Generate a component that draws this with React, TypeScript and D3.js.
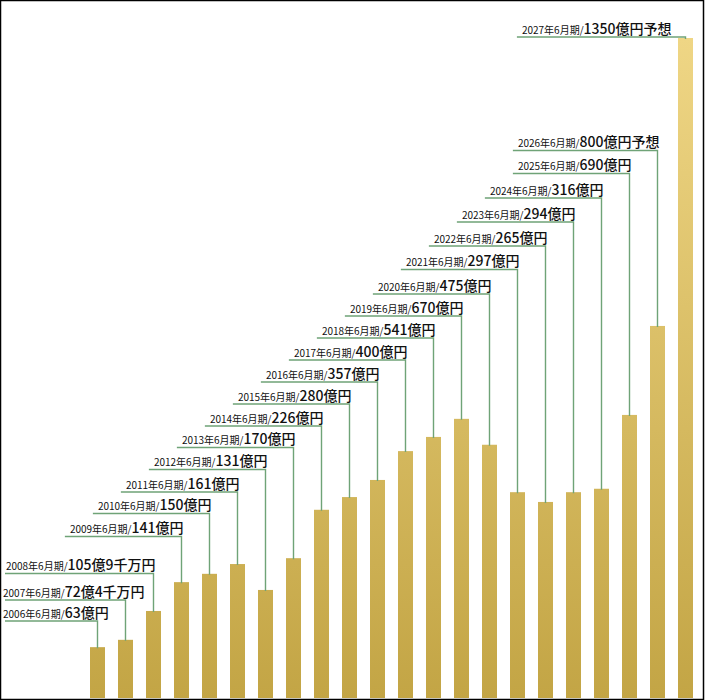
import * as d3 from 'd3';
import React, { useEffect, useRef } from 'react';

// fiscal years (June closing)
const years = [
    2006, 2007, 2008, 2009, 2010, 2011, 2012, 2013, 2014, 2015, 2016,
    2017, 2018, 2019, 2020, 2021, 2022, 2023, 2024, 2025, 2026, 2027,
];

// labelled figures
const amounts = [
    '63億円', '72億4千万円', '105億9千万円', '141億円', '150億円', '161億円',
    '131億円', '170億円', '226億円', '280億円', '357億円', '400億円', '541億円',
    '670億円', '475億円', '297億円', '265億円', '294億円', '316億円', '690億円',
    '800億円予想', '1350億円予想',
];

// drawn bar heights are not proportional to the labels, so they are read
// off the picture separately, in units where the 2027 bar = 1350
const barLevel = [
    104, 119, 178, 237, 254, 274, 221, 286, 385, 411, 446,
    505, 534, 571, 518, 421, 401, 421, 428, 579, 761, 1350,
];

// height of each label's leader line
const leaderY = [
    621, 600, 573.5, 536.5, 513.5, 492, 469.5, 447.5, 426, 404, 382,
    360, 338, 316, 294, 269.5, 246, 222, 198, 173.5, 150.5, 37,
];

const W = 705;
const H = 700;

const App: React.FC = () => {
    const svgRef = useRef<SVGSVGElement | null>(null);

    useEffect(() => {
        const svg = d3.select(svgRef.current);
        svg.selectAll('*').remove();

        const baseline = 698;

        const x = d3
            .scaleBand<number>()
            .domain(years)
            .range([83.5, 699.5])
            .paddingInner(13 / 28)
            .paddingOuter(13 / 56);

        const y = d3.scaleLinear().domain([0, 1350]).range([baseline, 38]);

        const defs = svg.append('defs');
        const grad = defs
            .append('linearGradient')
            .attr('id', 'gold')
            .attr('gradientUnits', 'userSpaceOnUse')
            .attr('x1', 0)
            .attr('x2', 0)
            .attr('y1', baseline)
            .attr('y2', y(1350));
        grad.append('stop').attr('offset', 0).attr('stop-color', '#c3a545');
        grad.append('stop').attr('offset', 1).attr('stop-color', '#efd685');

        svg.append('rect')
            .attr('width', W)
            .attr('height', H)
            .attr('fill', '#fff');

        // bars
        svg.selectAll('.bar')
            .data(years)
            .enter()
            .append('rect')
            .attr('class', 'bar')
            .attr('x', d => x(d)!)
            .attr('y', (d, i) => y(barLevel[i]))
            .attr('width', x.bandwidth())
            .attr('height', (d, i) => baseline - y(barLevel[i]))
            .attr('fill', 'url(#gold)');

        // labels with leader lines
        const last = years.length - 1;
        years.forEach((yr, i) => {
            const cx = x(yr)! + x.bandwidth() / 2;
            const ly = leaderY[i];
            const text = svg
                .append('text')
                .attr('y', ly - 3.5)
                .attr('fill', '#111')
                .style('font-family', '"Noto Sans CJK JP", "Noto Sans", sans-serif');
            text.append('tspan').attr('font-size', 10).text(`${yr}年6月期/`);
            text.append('tspan')
                .attr('font-size', 14)
                .attr('font-weight', 500)
                .text(amounts[i]);

            const tw = (text.node() as SVGTextElement).getComputedTextLength();
            const end = i === last ? cx - 14 : cx + 2;
            const start = Math.max(3, end - tw);
            text.attr('x', start);

            const lineStart = Math.max(5, start - 5);
            svg.append('path')
                .attr('d', `M${lineStart},${ly}H${cx}V${y(barLevel[i]) + 1}`)
                .attr('fill', 'none')
                .attr('stroke', '#6fa377')
                .attr('stroke-width', 1.4);
        });

        // frame
        svg.append('rect')
            .attr('x', 0.5)
            .attr('y', 0.5)
            .attr('width', 703)
            .attr('height', 699)
            .attr('fill', 'none')
            .attr('stroke', '#000')
            .attr('stroke-width', 1.5);
    }, []);

    return (
        <svg
            ref={svgRef}
            width={W}
            height={H}
            style={{ position: 'absolute', left: 0, top: 0, display: 'block' }}
        />
    );
};

export default App;
